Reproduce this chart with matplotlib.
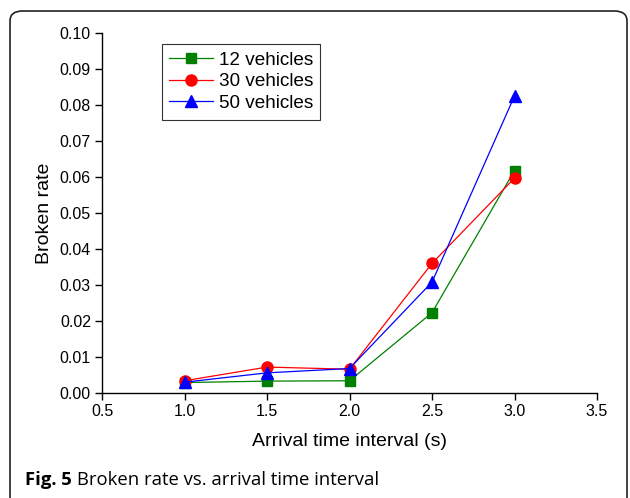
import matplotlib.pyplot as plt
from matplotlib.patches import FancyBboxPatch

# arrival time interval (s)
interval = [1.0, 1.5, 2.0, 2.5, 3.0]

# broken rate per fleet size
rate_12 = [0.0029, 0.0033, 0.0034, 0.0223, 0.0618]
rate_30 = [0.0034, 0.0072, 0.0066, 0.0360, 0.0597]
rate_50 = [0.0030, 0.0056, 0.0068, 0.0308, 0.0825]

labels = ["12 vehicles", "30 vehicles", "50 vehicles"]

plt.rcParams["font.family"] = ["Liberation Sans", "DejaVu Sans"]

fig = plt.figure(figsize=(6.3, 4.98), dpi=100)
ax = fig.add_axes([102 / 630, 1 - 393 / 498, 495 / 630, 360 / 498])

ax.plot(interval, rate_12, color="#008000", marker="s", ms=6.5, lw=0.9, label=labels[0])
ax.plot(interval, rate_30, color="#ff0000", marker="o", ms=8, lw=0.9, label=labels[1])
ax.plot(interval, rate_50, color="#0000ff", marker="^", ms=8, lw=0.9, label=labels[2])

ax.set_xlim(0.5, 3.5)
ax.set_ylim(0, 0.10)
ax.set_xticks([0.5, 1.0, 1.5, 2.0, 2.5, 3.0, 3.5])
ax.set_yticks([i / 100 for i in range(11)])
ax.xaxis.set_major_formatter(plt.FuncFormatter(lambda v, p: f"{v:.1f}"))
ax.yaxis.set_major_formatter(plt.FuncFormatter(lambda v, p: f"{v:.2f}"))
ax.tick_params(direction="out", length=5, width=1, labelsize=11.5, pad=3)
ax.spines["top"].set_visible(False)
ax.spines["right"].set_visible(False)
for s in ("left", "bottom"):
    ax.spines[s].set_linewidth(1)

ax.set_xlabel("Arrival time interval (s)", fontsize=14, labelpad=10)
ax.set_ylabel("Broken rate", fontsize=14, labelpad=5)

leg = ax.legend(loc="upper left", bbox_to_anchor=(0.121, 0.97), fontsize=13.6,
                frameon=True, fancybox=False, edgecolor="black", borderpad=0.4,
                labelspacing=0.24, handlelength=2.3, handletextpad=0.3, borderaxespad=0)
leg.get_frame().set_linewidth(0.8)

# outer rounded frame and caption
frame = FancyBboxPatch((10 / 630, -0.02), 617 / 630, 1 - 11 / 498 + 0.02,
                       boxstyle="round,pad=0,rounding_size=0.02",
                       transform=fig.transFigure, fill=False, edgecolor="#222222",
                       lw=1.2, clip_on=False)
fig.patches.append(frame)

cap_y = 1 - 485 / 498
t1 = fig.text(25 / 630, cap_y, "Fig. 5", fontsize=13.3, fontweight="bold",
              family=["Open Sans", "DejaVu Sans"], va="baseline")
fig.canvas.draw()
bb = t1.get_window_extent()
fig.text((bb.x1 + 5) / 630, cap_y, "Broken rate vs. arrival time interval", fontsize=13.3,
         family=["Open Sans", "DejaVu Sans"], va="baseline")

fig.savefig("out.png", dpi=100)
